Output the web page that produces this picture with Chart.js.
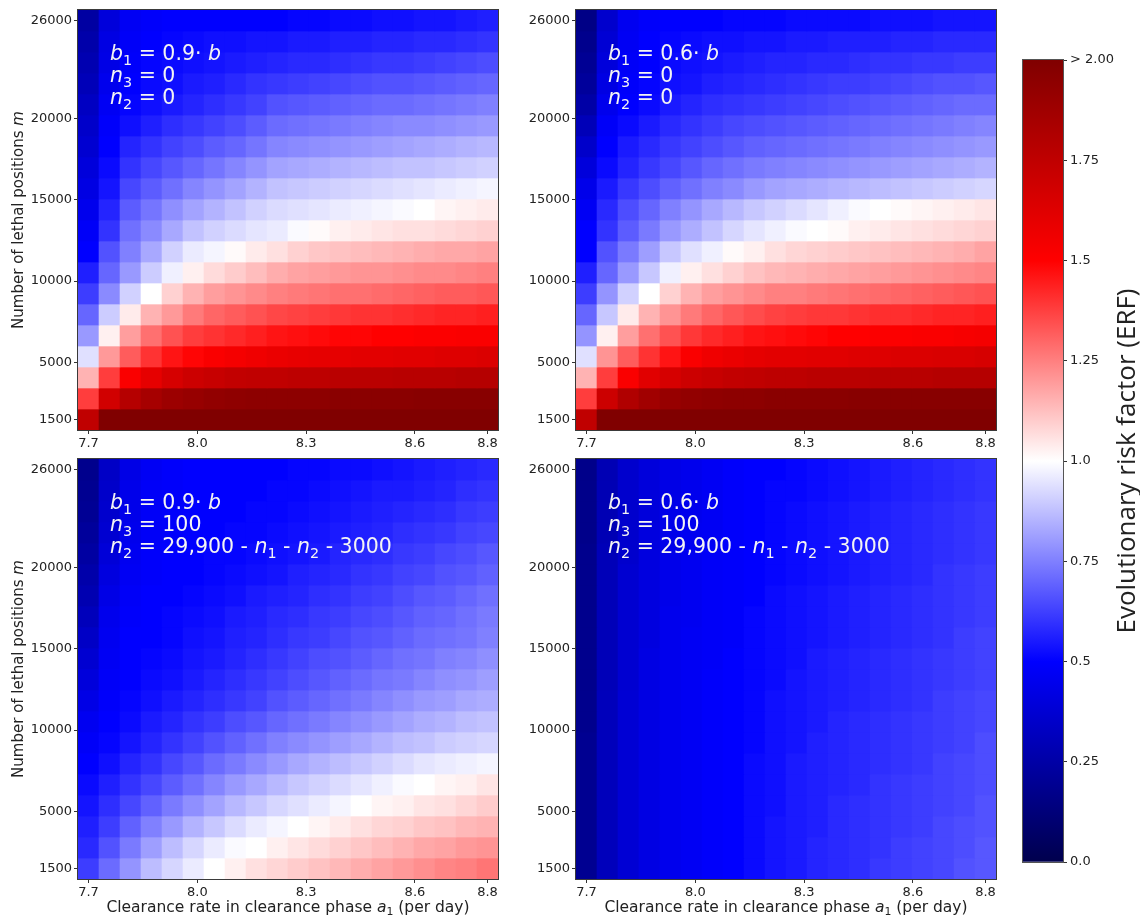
<!DOCTYPE html>
<html>
<head>
<meta charset="utf-8">
<title>Evolutionary risk factor heatmaps</title>
<script src="https://cdn.jsdelivr.net/npm/chart.js@4"></script>
<style>
  html, body { margin: 0; padding: 0; background: #fff; }
  #fig { position: relative; width: 1140px; height: 920px; }
  #fig canvas { position: absolute; }
</style>
</head>
<body>
<div id="fig">
  <canvas id="tl" width="520" height="455" style="left:0;top:0"></canvas>
  <canvas id="tr" width="520" height="455" style="left:498px;top:0"></canvas>
  <canvas id="bl" width="520" height="471" style="left:0;top:449px"></canvas>
  <canvas id="br" width="520" height="471" style="left:498px;top:449px"></canvas>
  <canvas id="cbar" width="140" height="920" style="left:1000px;top:0"></canvas>
</div>
<script>
const FONT = '"DejaVu Sans", sans-serif';

// grid: clearance rate a1 (columns) and lethal positions m (rows, top row first)
const clearanceRates = [7.7, 7.7579, 7.8158, 7.8737, 7.9316, 7.9895, 8.0474, 8.1053, 8.1632, 8.2211,
  8.2789, 8.3368, 8.3947, 8.4526, 8.5105, 8.5684, 8.6263, 8.6842, 8.7421, 8.8];
const lethalPositions = [26000, 24710.5, 23421.1, 22131.6, 20842.1, 19552.6, 18263.2, 16973.7, 15684.2, 14394.7,
  13105.3, 11815.8, 10526.3, 9236.8, 7947.4, 6657.9, 5368.4, 4078.9, 2789.5, 1500];
const rateTicks = [7.7, 8.0, 8.3, 8.6, 8.8];
const positionTicks = [1500, 5000, 10000, 15000, 20000, 26000];
const erfTicks = [0, 0.25, 0.5, 0.75, 1, 1.25, 1.5, 1.75, 2];
const erfTickLabels = ['0.0', '0.25', '0.5', '0.75', '1.0', '1.25', '1.5', '1.75', '> 2.00'];

// ERF, b1 = 0.9 b, n3 = 0
const erfB09N0 = [
  [0.24, 0.40, 0.47, 0.49, 0.50, 0.50, 0.50, 0.50, 0.50, 0.50, 0.51, 0.51, 0.52, 0.52, 0.53, 0.53, 0.54, 0.54, 0.55, 0.56],
  [0.26, 0.42, 0.48, 0.50, 0.51, 0.52, 0.53, 0.53, 0.54, 0.54, 0.55, 0.55, 0.56, 0.56, 0.57, 0.57, 0.58, 0.58, 0.59, 0.60],
  [0.28, 0.43, 0.49, 0.51, 0.52, 0.53, 0.54, 0.55, 0.56, 0.57, 0.58, 0.58, 0.59, 0.60, 0.61, 0.61, 0.62, 0.63, 0.64, 0.65],
  [0.30, 0.45, 0.50, 0.52, 0.53, 0.55, 0.56, 0.58, 0.60, 0.61, 0.62, 0.63, 0.64, 0.65, 0.66, 0.66, 0.67, 0.68, 0.69, 0.70],
  [0.33, 0.47, 0.51, 0.53, 0.55, 0.57, 0.59, 0.61, 0.63, 0.66, 0.67, 0.68, 0.69, 0.70, 0.71, 0.71, 0.72, 0.73, 0.74, 0.75],
  [0.35, 0.49, 0.53, 0.56, 0.59, 0.61, 0.63, 0.65, 0.68, 0.71, 0.72, 0.73, 0.74, 0.75, 0.76, 0.77, 0.77, 0.78, 0.79, 0.80],
  [0.37, 0.50, 0.57, 0.60, 0.63, 0.65, 0.68, 0.70, 0.73, 0.76, 0.77, 0.78, 0.79, 0.80, 0.81, 0.82, 0.83, 0.84, 0.85, 0.86],
  [0.40, 0.52, 0.60, 0.64, 0.67, 0.70, 0.73, 0.76, 0.79, 0.82, 0.83, 0.84, 0.85, 0.86, 0.87, 0.88, 0.88, 0.89, 0.90, 0.91],
  [0.42, 0.54, 0.64, 0.68, 0.72, 0.76, 0.79, 0.82, 0.85, 0.88, 0.89, 0.90, 0.91, 0.92, 0.93, 0.94, 0.95, 0.96, 0.97, 0.98],
  [0.45, 0.57, 0.68, 0.73, 0.78, 0.82, 0.85, 0.88, 0.91, 0.93, 0.94, 0.95, 0.96, 0.97, 0.98, 0.99, 1.00, 1.02, 1.03, 1.04],
  [0.48, 0.60, 0.72, 0.77, 0.83, 0.88, 0.91, 0.93, 0.95, 0.96, 0.99, 1.01, 1.03, 1.04, 1.05, 1.06, 1.06, 1.07, 1.08, 1.09],
  [0.50, 0.66, 0.75, 0.83, 0.91, 0.96, 0.98, 1.01, 1.04, 1.06, 1.09, 1.11, 1.12, 1.13, 1.14, 1.15, 1.16, 1.17, 1.17, 1.18],
  [0.56, 0.70, 0.80, 0.90, 0.97, 1.03, 1.07, 1.10, 1.13, 1.16, 1.18, 1.19, 1.20, 1.21, 1.21, 1.22, 1.23, 1.23, 1.24, 1.25],
  [0.62, 0.77, 0.91, 1.00, 1.09, 1.15, 1.19, 1.21, 1.23, 1.25, 1.26, 1.27, 1.28, 1.28, 1.29, 1.30, 1.31, 1.32, 1.32, 1.33],
  [0.70, 0.90, 1.04, 1.15, 1.20, 1.26, 1.30, 1.32, 1.34, 1.36, 1.37, 1.38, 1.39, 1.40, 1.40, 1.41, 1.42, 1.43, 1.43, 1.44],
  [0.80, 1.03, 1.19, 1.28, 1.34, 1.38, 1.40, 1.42, 1.44, 1.46, 1.47, 1.48, 1.49, 1.49, 1.50, 1.50, 1.51, 1.51, 1.52, 1.52],
  [0.94, 1.20, 1.32, 1.40, 1.46, 1.49, 1.52, 1.54, 1.56, 1.58, 1.59, 1.60, 1.60, 1.61, 1.61, 1.62, 1.62, 1.63, 1.63, 1.64],
  [1.15, 1.38, 1.52, 1.60, 1.66, 1.70, 1.72, 1.74, 1.75, 1.75, 1.76, 1.76, 1.77, 1.77, 1.77, 1.78, 1.78, 1.78, 1.79, 1.79],
  [1.38, 1.68, 1.79, 1.85, 1.89, 1.91, 1.93, 1.94, 1.95, 1.95, 1.95, 1.95, 1.96, 1.96, 1.96, 1.96, 1.97, 1.97, 1.97, 1.97],
  [1.75, 2.00, 2.00, 2.00, 2.00, 2.00, 2.00, 2.00, 2.00, 2.00, 2.00, 2.00, 2.00, 2.00, 2.00, 2.00, 2.00, 2.00, 2.00, 2.00]
];

// ERF, b1 = 0.6 b, n3 = 0
const erfB06N0 = [
  [0.16, 0.36, 0.46, 0.49, 0.50, 0.50, 0.50, 0.51, 0.51, 0.51, 0.52, 0.52, 0.52, 0.52, 0.53, 0.53, 0.53, 0.54, 0.54, 0.54],
  [0.18, 0.38, 0.47, 0.50, 0.51, 0.52, 0.53, 0.53, 0.54, 0.54, 0.55, 0.55, 0.56, 0.56, 0.56, 0.57, 0.57, 0.58, 0.58, 0.58],
  [0.20, 0.40, 0.48, 0.50, 0.52, 0.53, 0.54, 0.55, 0.56, 0.57, 0.57, 0.58, 0.58, 0.59, 0.60, 0.60, 0.61, 0.61, 0.62, 0.62],
  [0.22, 0.42, 0.49, 0.51, 0.53, 0.54, 0.56, 0.57, 0.58, 0.59, 0.60, 0.61, 0.62, 0.62, 0.63, 0.64, 0.65, 0.66, 0.66, 0.67],
  [0.25, 0.45, 0.50, 0.52, 0.55, 0.57, 0.59, 0.60, 0.61, 0.62, 0.63, 0.64, 0.65, 0.66, 0.67, 0.68, 0.69, 0.70, 0.71, 0.71],
  [0.30, 0.48, 0.52, 0.55, 0.58, 0.60, 0.62, 0.64, 0.65, 0.66, 0.67, 0.68, 0.69, 0.70, 0.71, 0.72, 0.73, 0.74, 0.75, 0.76],
  [0.35, 0.50, 0.55, 0.58, 0.61, 0.63, 0.65, 0.67, 0.69, 0.70, 0.71, 0.72, 0.73, 0.74, 0.75, 0.76, 0.77, 0.78, 0.79, 0.80],
  [0.40, 0.52, 0.57, 0.61, 0.64, 0.67, 0.70, 0.72, 0.74, 0.75, 0.76, 0.77, 0.78, 0.79, 0.80, 0.81, 0.82, 0.83, 0.84, 0.85],
  [0.44, 0.55, 0.61, 0.65, 0.69, 0.72, 0.75, 0.77, 0.80, 0.82, 0.83, 0.84, 0.85, 0.86, 0.87, 0.88, 0.89, 0.90, 0.91, 0.92],
  [0.47, 0.58, 0.65, 0.70, 0.75, 0.79, 0.83, 0.86, 0.89, 0.91, 0.93, 0.95, 0.97, 0.99, 1.00, 1.01, 1.02, 1.03, 1.04, 1.05],
  [0.50, 0.60, 0.68, 0.74, 0.80, 0.84, 0.88, 0.92, 0.95, 0.97, 0.99, 1.00, 1.01, 1.03, 1.04, 1.05, 1.06, 1.07, 1.08, 1.09],
  [0.50, 0.66, 0.74, 0.81, 0.89, 0.94, 0.97, 1.01, 1.03, 1.06, 1.08, 1.09, 1.10, 1.11, 1.12, 1.13, 1.14, 1.15, 1.16, 1.18],
  [0.56, 0.70, 0.80, 0.89, 0.97, 1.03, 1.06, 1.09, 1.12, 1.14, 1.15, 1.16, 1.17, 1.18, 1.19, 1.20, 1.21, 1.22, 1.23, 1.24],
  [0.62, 0.79, 0.91, 1.00, 1.09, 1.15, 1.19, 1.21, 1.23, 1.25, 1.25, 1.26, 1.27, 1.28, 1.29, 1.30, 1.31, 1.32, 1.33, 1.34],
  [0.70, 0.89, 1.04, 1.15, 1.21, 1.26, 1.30, 1.33, 1.35, 1.37, 1.38, 1.39, 1.39, 1.40, 1.41, 1.41, 1.42, 1.43, 1.43, 1.44],
  [0.79, 1.03, 1.19, 1.28, 1.34, 1.39, 1.42, 1.44, 1.46, 1.47, 1.48, 1.49, 1.50, 1.50, 1.51, 1.51, 1.52, 1.52, 1.53, 1.54],
  [0.94, 1.21, 1.32, 1.40, 1.46, 1.52, 1.56, 1.58, 1.60, 1.61, 1.61, 1.62, 1.62, 1.63, 1.63, 1.64, 1.64, 1.65, 1.65, 1.66],
  [1.15, 1.38, 1.52, 1.62, 1.66, 1.70, 1.72, 1.74, 1.75, 1.76, 1.76, 1.77, 1.77, 1.77, 1.78, 1.78, 1.78, 1.79, 1.79, 1.79],
  [1.38, 1.70, 1.81, 1.87, 1.91, 1.93, 1.94, 1.95, 1.95, 1.96, 1.96, 1.96, 1.96, 1.97, 1.97, 1.97, 1.97, 1.97, 1.97, 1.97],
  [1.75, 2.00, 2.00, 2.00, 2.00, 2.00, 2.00, 2.00, 2.00, 2.00, 2.00, 2.00, 2.00, 2.00, 2.00, 2.00, 2.00, 2.00, 2.00, 2.00]
];

// ERF, b1 = 0.9 b, n3 = 100
const erfB09N100 = [
  [0.18, 0.34, 0.43, 0.47, 0.49, 0.50, 0.50, 0.50, 0.50, 0.50, 0.51, 0.51, 0.52, 0.52, 0.53, 0.54, 0.55, 0.56, 0.57, 0.58],
  [0.19, 0.35, 0.44, 0.48, 0.49, 0.50, 0.50, 0.50, 0.50, 0.51, 0.51, 0.52, 0.53, 0.54, 0.55, 0.55, 0.56, 0.57, 0.59, 0.60],
  [0.20, 0.36, 0.44, 0.48, 0.49, 0.50, 0.50, 0.50, 0.51, 0.51, 0.52, 0.53, 0.54, 0.55, 0.56, 0.57, 0.58, 0.59, 0.61, 0.62],
  [0.22, 0.37, 0.45, 0.48, 0.49, 0.50, 0.50, 0.51, 0.51, 0.52, 0.53, 0.54, 0.55, 0.56, 0.57, 0.59, 0.60, 0.61, 0.63, 0.64],
  [0.24, 0.39, 0.46, 0.49, 0.50, 0.50, 0.51, 0.51, 0.52, 0.53, 0.54, 0.55, 0.57, 0.58, 0.59, 0.61, 0.62, 0.64, 0.65, 0.67],
  [0.26, 0.41, 0.47, 0.49, 0.50, 0.50, 0.51, 0.52, 0.53, 0.54, 0.56, 0.57, 0.58, 0.60, 0.61, 0.63, 0.64, 0.66, 0.67, 0.69],
  [0.28, 0.43, 0.48, 0.50, 0.50, 0.51, 0.52, 0.53, 0.55, 0.56, 0.57, 0.59, 0.60, 0.62, 0.63, 0.65, 0.67, 0.68, 0.70, 0.72],
  [0.31, 0.45, 0.49, 0.50, 0.51, 0.52, 0.53, 0.55, 0.56, 0.58, 0.59, 0.61, 0.62, 0.64, 0.65, 0.67, 0.69, 0.70, 0.72, 0.74],
  [0.34, 0.46, 0.50, 0.50, 0.51, 0.53, 0.54, 0.56, 0.57, 0.59, 0.61, 0.62, 0.64, 0.66, 0.67, 0.69, 0.71, 0.72, 0.73, 0.75],
  [0.37, 0.47, 0.50, 0.51, 0.52, 0.54, 0.55, 0.57, 0.59, 0.61, 0.63, 0.65, 0.66, 0.68, 0.70, 0.72, 0.73, 0.75, 0.76, 0.78],
  [0.40, 0.48, 0.50, 0.52, 0.53, 0.55, 0.57, 0.59, 0.61, 0.63, 0.65, 0.67, 0.69, 0.71, 0.73, 0.74, 0.76, 0.78, 0.79, 0.81],
  [0.43, 0.49, 0.51, 0.53, 0.55, 0.57, 0.59, 0.61, 0.63, 0.66, 0.68, 0.70, 0.72, 0.74, 0.76, 0.78, 0.80, 0.81, 0.83, 0.84],
  [0.46, 0.50, 0.52, 0.55, 0.57, 0.60, 0.62, 0.65, 0.67, 0.70, 0.72, 0.74, 0.76, 0.78, 0.80, 0.82, 0.84, 0.85, 0.87, 0.88],
  [0.48, 0.51, 0.54, 0.57, 0.60, 0.63, 0.66, 0.69, 0.72, 0.75, 0.77, 0.79, 0.81, 0.83, 0.85, 0.87, 0.88, 0.90, 0.91, 0.92],
  [0.50, 0.53, 0.57, 0.60, 0.64, 0.67, 0.71, 0.74, 0.77, 0.80, 0.83, 0.85, 0.87, 0.89, 0.91, 0.93, 0.95, 0.96, 0.97, 0.98],
  [0.52, 0.56, 0.60, 0.64, 0.68, 0.72, 0.76, 0.80, 0.83, 0.86, 0.89, 0.91, 0.93, 0.95, 0.97, 0.99, 1.00, 1.02, 1.03, 1.05],
  [0.54, 0.59, 0.64, 0.69, 0.74, 0.78, 0.82, 0.86, 0.89, 0.92, 0.94, 0.96, 0.98, 1.00, 1.02, 1.03, 1.05, 1.06, 1.08, 1.10],
  [0.56, 0.62, 0.69, 0.75, 0.80, 0.85, 0.89, 0.93, 0.96, 0.98, 1.00, 1.02, 1.04, 1.06, 1.08, 1.09, 1.11, 1.12, 1.14, 1.15],
  [0.58, 0.66, 0.74, 0.81, 0.87, 0.92, 0.96, 0.99, 1.00, 1.03, 1.05, 1.07, 1.09, 1.11, 1.13, 1.15, 1.17, 1.18, 1.20, 1.21],
  [0.62, 0.71, 0.79, 0.87, 0.92, 0.96, 1.00, 1.03, 1.06, 1.08, 1.10, 1.12, 1.14, 1.16, 1.18, 1.20, 1.22, 1.24, 1.25, 1.27]
];

// ERF, b1 = 0.6 b, n3 = 100
const erfB06N100 = [
  [0.17, 0.29, 0.36, 0.40, 0.43, 0.45, 0.47, 0.49, 0.50, 0.50, 0.51, 0.52, 0.53, 0.54, 0.55, 0.56, 0.57, 0.58, 0.59, 0.60],
  [0.17, 0.29, 0.36, 0.40, 0.43, 0.45, 0.47, 0.49, 0.50, 0.51, 0.51, 0.52, 0.53, 0.54, 0.55, 0.56, 0.57, 0.58, 0.59, 0.60],
  [0.17, 0.29, 0.36, 0.40, 0.44, 0.45, 0.47, 0.49, 0.50, 0.51, 0.52, 0.53, 0.54, 0.55, 0.56, 0.57, 0.58, 0.59, 0.60, 0.61],
  [0.17, 0.29, 0.36, 0.41, 0.44, 0.46, 0.47, 0.49, 0.50, 0.51, 0.52, 0.53, 0.54, 0.55, 0.56, 0.57, 0.58, 0.59, 0.60, 0.61],
  [0.18, 0.30, 0.36, 0.41, 0.44, 0.46, 0.48, 0.49, 0.50, 0.51, 0.52, 0.53, 0.54, 0.55, 0.56, 0.57, 0.58, 0.59, 0.60, 0.61],
  [0.18, 0.30, 0.37, 0.41, 0.44, 0.46, 0.48, 0.49, 0.50, 0.51, 0.52, 0.53, 0.54, 0.55, 0.56, 0.57, 0.58, 0.60, 0.61, 0.62],
  [0.18, 0.30, 0.37, 0.41, 0.44, 0.46, 0.48, 0.49, 0.50, 0.52, 0.53, 0.54, 0.55, 0.56, 0.57, 0.58, 0.59, 0.60, 0.61, 0.62],
  [0.18, 0.30, 0.37, 0.41, 0.45, 0.46, 0.48, 0.49, 0.51, 0.52, 0.53, 0.54, 0.55, 0.56, 0.57, 0.58, 0.59, 0.60, 0.61, 0.62],
  [0.18, 0.30, 0.37, 0.41, 0.45, 0.47, 0.48, 0.49, 0.51, 0.52, 0.53, 0.54, 0.55, 0.56, 0.57, 0.58, 0.59, 0.60, 0.62, 0.63],
  [0.18, 0.30, 0.37, 0.42, 0.45, 0.47, 0.48, 0.50, 0.51, 0.52, 0.53, 0.55, 0.56, 0.57, 0.58, 0.59, 0.60, 0.61, 0.62, 0.63],
  [0.18, 0.30, 0.37, 0.42, 0.45, 0.47, 0.49, 0.50, 0.51, 0.52, 0.54, 0.55, 0.56, 0.57, 0.58, 0.59, 0.60, 0.61, 0.62, 0.63],
  [0.18, 0.31, 0.38, 0.42, 0.45, 0.47, 0.49, 0.50, 0.51, 0.53, 0.54, 0.55, 0.56, 0.57, 0.58, 0.59, 0.60, 0.62, 0.63, 0.64],
  [0.18, 0.31, 0.38, 0.42, 0.45, 0.47, 0.49, 0.50, 0.51, 0.53, 0.54, 0.55, 0.57, 0.58, 0.59, 0.60, 0.61, 0.62, 0.63, 0.64],
  [0.19, 0.31, 0.38, 0.42, 0.45, 0.47, 0.49, 0.50, 0.51, 0.53, 0.54, 0.56, 0.57, 0.58, 0.59, 0.60, 0.61, 0.62, 0.63, 0.65],
  [0.19, 0.31, 0.38, 0.42, 0.45, 0.47, 0.49, 0.50, 0.52, 0.53, 0.55, 0.56, 0.57, 0.58, 0.59, 0.60, 0.61, 0.63, 0.64, 0.65],
  [0.19, 0.31, 0.38, 0.42, 0.45, 0.47, 0.49, 0.50, 0.52, 0.53, 0.55, 0.56, 0.57, 0.58, 0.60, 0.61, 0.62, 0.63, 0.64, 0.65],
  [0.19, 0.31, 0.38, 0.42, 0.45, 0.47, 0.49, 0.50, 0.52, 0.53, 0.55, 0.56, 0.58, 0.59, 0.60, 0.61, 0.62, 0.63, 0.64, 0.66],
  [0.19, 0.31, 0.38, 0.42, 0.45, 0.47, 0.49, 0.50, 0.52, 0.54, 0.55, 0.56, 0.58, 0.59, 0.60, 0.61, 0.62, 0.64, 0.65, 0.66],
  [0.19, 0.31, 0.38, 0.42, 0.45, 0.47, 0.49, 0.50, 0.52, 0.54, 0.55, 0.57, 0.58, 0.59, 0.60, 0.62, 0.63, 0.64, 0.65, 0.67],
  [0.19, 0.31, 0.38, 0.42, 0.45, 0.47, 0.49, 0.50, 0.52, 0.54, 0.55, 0.57, 0.58, 0.59, 0.61, 0.62, 0.63, 0.64, 0.66, 0.67]
];

const notesB09N0 = ['$b$_1 = 0.9\u00b7 $b$', '$n$_3 = 0', '$n$_2 = 0'];
const notesB06N0 = ['$b$_1 = 0.6\u00b7 $b$', '$n$_3 = 0', '$n$_2 = 0'];
const notesB09N100 = ['$b$_1 = 0.9\u00b7 $b$', '$n$_3 = 100', '$n$_2 = 29,900 - $n$_1 - $n$_2 - 3000'];
const notesB06N100 = ['$b$_1 = 0.6\u00b7 $b$', '$n$_3 = 100', '$n$_2 = 29,900 - $n$_1 - $n$_2 - 3000'];

const yTitle = 'Number of lethal positions $m$';
const xTitle = 'Clearance rate in clearance phase $a$_1 (per day)';
const erfTitle = 'Evolutionary risk factor (ERF)';

// seismic colour map, vmin 0 .. vmax 2
const seismic = [[0, 0, 77], [0, 0, 255], [255, 255, 255], [255, 0, 0], [128, 0, 0]];
function erfColor(v) {
  const t = Math.min(Math.max(v / 2, 0), 1) * 4;
  const i = Math.min(Math.floor(t), 3);
  const f = t - i;
  const a = seismic[i], b = seismic[i + 1];
  const c = a.map((x, k) => Math.round(x + (b[k] - x) * f));
  return `rgb(${c[0]},${c[1]},${c[2]})`;
}

// cell edges half way to the neighbouring grid values
function cellEdges(vals) {
  return vals.map((v, i) => {
    const prev = i > 0 ? vals[i - 1] : 2 * v - vals[1];
    const next = i < vals.length - 1 ? vals[i + 1] : 2 * v - vals[i - 1];
    const lo = (prev + v) / 2, hi = (v + next) / 2;
    return lo < hi ? [lo, hi] : [hi, lo];
  });
}

// "$x$" italic, "_1" subscript
function richParts(s) {
  const parts = [];
  const re = /\$([^$]+)\$|_(\d)|([^$_]+)/g;
  let m;
  while ((m = re.exec(s))) {
    if (m[1]) parts.push({ t: m[1], it: true });
    else if (m[2]) parts.push({ t: m[2], sub: true });
    else parts.push({ t: m[3] });
  }
  return parts;
}

function drawRich(ctx, s, x, y, size, align, family) {
  const fam = family || FONT;
  const parts = richParts(s);
  const fontOf = p => `${p.it ? 'italic ' : ''}${p.sub ? size * 0.7 : size}px ${fam}`;
  let w = 0;
  parts.forEach(p => { ctx.font = fontOf(p); p.w = ctx.measureText(p.t).width; w += p.w; });
  let cx = align === 'center' ? x - w / 2 : x;
  ctx.textAlign = 'left';
  parts.forEach(p => {
    ctx.font = fontOf(p);
    ctx.fillText(p.t, cx, y + (p.sub ? size * 0.22 : 0));
    cx += p.w;
  });
}

function panelText(notes, showY, showX) {
  return {
    id: 'panelText',
    afterDatasetsDraw(chart) {
      const { ctx, chartArea: a } = chart;
      ctx.save();
      ctx.strokeStyle = '#3a3a3a';
      ctx.lineWidth = 1;
      ctx.strokeRect(a.left - 0.5, a.top - 0.5, a.width + 1, a.height + 1);

      ctx.fillStyle = '#f4f4f4';
      ctx.textBaseline = 'alphabetic';
      notes.forEach((s, i) => drawRich(ctx, s, a.left + 32, a.top + 50 + 22 * i, 20.5));

      ctx.fillStyle = '#222';
      if (showY) {
        ctx.save();
        ctx.translate(a.left - 59, (a.top + a.bottom) / 2);
        ctx.rotate(-Math.PI / 2);
        ctx.textBaseline = 'middle';
        drawRich(ctx, yTitle, 0, 0, 15, 'center');
        ctx.restore();
      }
      if (showX) {
        drawRich(ctx, xTitle, (a.left + a.right) / 2, a.bottom + 33, 15.5, 'center');
      }
      ctx.restore();
    }
  };
}

const tickFont = { family: FONT, size: 13 };

function heatmap(id, grid, notes, showY, showX) {
  const rowSpans = cellEdges(lethalPositions);
  const colSpans = cellEdges(clearanceRates);
  const datasets = grid.map((row, i) => ({
    data: row.map((v, j) => ({ x: clearanceRates[j], y: rowSpans[i] })),
    backgroundColor: row.map(erfColor),
    borderWidth: 0,
    grouped: false,
    barPercentage: 1,
    categoryPercentage: 1
  }));
  return new Chart(document.getElementById(id), {
    type: 'bar',
    data: { datasets },
    options: {
      responsive: false,
      animation: false,
      events: [],
      layout: { padding: { top: 10, right: 22, left: 0, bottom: 0 } },
      plugins: { legend: { display: false }, tooltip: { enabled: false } },
      scales: {
        x: {
          type: 'linear',
          offset: false,
          min: colSpans[0][0],
          max: colSpans[colSpans.length - 1][1],
          border: { display: false },
          grid: { offset: false, drawOnChartArea: false, tickLength: 4, color: '#333' },
          ticks: { color: '#222', font: tickFont, padding: 2, autoSkip: false, maxRotation: 0,
            callback: v => Number(v).toFixed(1) },
          afterBuildTicks: s => { s.ticks = rateTicks.map(value => ({ value })); },
          afterFit: s => { s.height = showX ? 41 : 25; }
        },
        y: {
          type: 'linear',
          beginAtZero: false,
          min: rowSpans[rowSpans.length - 1][0],
          max: rowSpans[0][1],
          border: { display: false },
          grid: { drawOnChartArea: false, tickLength: 4, color: '#333' },
          ticks: { color: '#222', font: tickFont, padding: 2, autoSkip: false, callback: v => String(v) },
          afterBuildTicks: s => { s.ticks = positionTicks.map(value => ({ value })); },
          afterFit: s => { s.width = 78; }
        }
      }
    },
    plugins: [panelText(notes, showY, showX)]
  });
}

heatmap('tl', erfB09N0, notesB09N0, true, false);
heatmap('tr', erfB06N0, notesB06N0, false, false);
heatmap('bl', erfB09N100, notesB09N100, true, true);
heatmap('br', erfB06N100, notesB06N100, false, true);

// colour bar
const colorbarText = {
  id: 'colorbarText',
  afterDatasetsDraw(chart) {
    const { ctx, chartArea: a } = chart;
    ctx.save();
    ctx.strokeStyle = '#555';
    ctx.lineWidth = 1;
    ctx.strokeRect(a.left - 0.5, a.top - 0.5, a.width + 1, a.height + 1);
    ctx.fillStyle = '#222';
    ctx.translate(a.right + 65, (a.top + a.bottom) / 2);
    ctx.rotate(-Math.PI / 2);
    ctx.textBaseline = 'middle';
    drawRich(ctx, erfTitle, 0, 0, 26, 'center', '"Open Sans", sans-serif');
    ctx.restore();
  }
};

new Chart(document.getElementById('cbar'), {
  type: 'bar',
  data: {
    labels: ['ERF'],
    datasets: [{
      data: [[erfTicks[0], erfTicks[erfTicks.length - 1]]],
      backgroundColor: c => {
        const a = c.chart.chartArea;
        if (!a) return erfColor(1);
        const g = c.chart.ctx.createLinearGradient(0, a.bottom, 0, a.top);
        seismic.forEach((rgb, k) => g.addColorStop(k / (seismic.length - 1), `rgb(${rgb.join(',')})`));
        return g;
      },
      borderWidth: 0,
      barPercentage: 1,
      categoryPercentage: 1
    }]
  },
  options: {
    responsive: false,
    animation: false,
    events: [],
    layout: { padding: { left: 23, top: 60, bottom: 58, right: 0 } },
    plugins: { legend: { display: false }, tooltip: { enabled: false } },
    scales: {
      x: { display: false },
      y: {
        position: 'right',
        min: erfTicks[0],
        max: erfTicks[erfTicks.length - 1],
        border: { display: false },
        grid: { drawOnChartArea: false, tickLength: 4, color: '#333' },
        ticks: { color: '#222', font: tickFont, padding: 3, autoSkip: false,
          callback: (v, i) => erfTickLabels[i] },
        afterBuildTicks: s => { s.ticks = erfTicks.map(value => ({ value })); },
        afterFit: s => { s.width = 77; }
      }
    }
  },
  plugins: [colorbarText]
});
</script>
</body>
</html>
